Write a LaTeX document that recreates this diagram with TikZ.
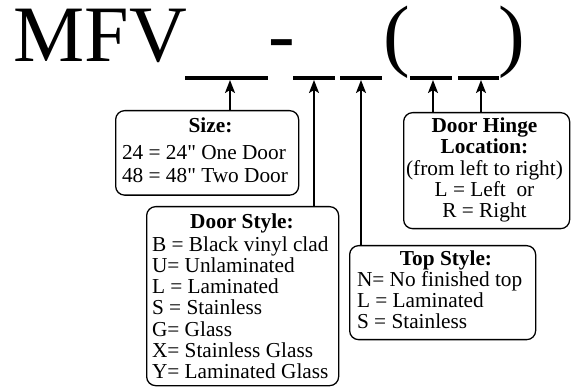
\documentclass[tikz,border=0pt]{standalone}
\usepackage{fontspec}
\setmainfont{Liberation Serif}
\newfontfamily\qfont{Liberation Serif}
\usetikzlibrary{arrows.meta}
\newcommand{\inch}{{\qfont\symbol{34}}}
\begin{document}
\begin{tikzpicture}[x=1pt,y=-1pt,
  box/.style={draw, line width=1.3pt, rounded corners=9pt, inner sep=0pt, anchor=north west},
  txt/.style={inner sep=0pt, outer sep=0pt, font=\fontsize{21.3}{21}\selectfont},
  big/.style={inner sep=0pt, outer sep=0pt, font=\fontsize{80}{80}\selectfont, anchor=base west},
  bar/.style={fill=black, draw=none, inner sep=0pt, minimum height=4pt},
  conn/.style={line width=2pt, -{Stealth[length=13pt,width=10pt,inset=3pt]}}]
\useasboundingbox (0,0) rectangle (573,387);
% title
\node[big] (mfv) at (13.5,62) {MFV};
\node[big] (dash) at (268,62) {-};
\node[big] (lp) at (383,62) {(};
\node[big] (rp) at (498,62) {)};
% blanks
\node[bar, minimum width=83pt] (bar1) at (226.5,78) {};
\node[bar, minimum width=42pt] (bar2) at (314,78) {};
\node[bar, minimum width=42pt] (bar3) at (361,78) {};
\node[bar, minimum width=42pt] (bar4) at (431,78) {};
\node[bar, minimum width=41pt] (bar5) at (478.5,78) {};
\coordinate (t1) at (230,80);
\coordinate (t2) at (314,80);
\coordinate (t3) at (361,80);
\coordinate (t4) at (433,80);
\coordinate (t5) at (481,80);
% boxes
\node[box, minimum width=183pt, minimum height=84.5pt] (size) at (115,110) {};
\node[box, minimum width=192pt, minimum height=179pt] (door) at (146,206) {};
\node[box, minimum width=186pt, minimum height=94pt] (top) at (349,245) {};
\node[box, minimum width=166pt, minimum height=116pt] (hinge) at (403,112) {};
% texts
\node[txt, anchor=base] (sizet) at (210.5,132.7) {\bfseries Size:};
\node[txt, anchor=base west] (sizeb) at (122,159.3) {\begin{tabular}[t]{@{}l@{}}24 = 24\inch{} One Door\\[2.4pt] 48 = 48\inch{} Two Door\end{tabular}};
\node[txt, anchor=base] (doort) at (242,228.3) {\bfseries Door Style:};
\node[txt, anchor=base west] (doorb) at (152,251.7) {\begin{tabular}[t]{@{}l@{}}B = Black vinyl clad\\ U= Unlaminated\\ L = Laminated\\ S = Stainless\\ G= Glass\\ X= Stainless Glass\\ Y= Laminated Glass\end{tabular}};
\node[txt, anchor=base] (topt) at (446,266) {\bfseries Top Style:};
\node[txt, anchor=base west, font=\fontsize{21.3}{20.3}\selectfont] (topb) at (357,286.7) {\begin{tabular}[t]{@{}l@{}}N= No finished top\\ L = Laminated\\ S = Stainless\end{tabular}};
\node[txt, anchor=base] (hinget) at (484.5,132.7) {\begin{tabular}[t]{@{}c@{}}\bfseries Door Hinge\\ \bfseries Location:\\ (from left to right)\\ L = Left~ or\\ R = Right\end{tabular}};
% connectors
\draw[conn] (size.north -| t1) -- (t1);
\draw[conn] (door.north -| t2) -- (t2);
\draw[conn] (top.north -| t3) -- (t3);
\draw[conn] (hinge.north -| t4) -- (t4);
\draw[conn] (hinge.north -| t5) -- (t5);
\end{tikzpicture}
\end{document}
